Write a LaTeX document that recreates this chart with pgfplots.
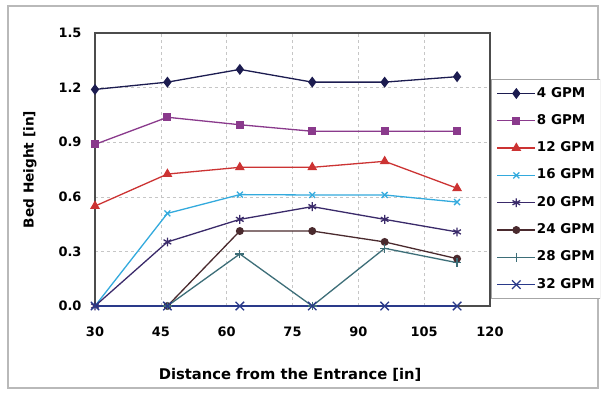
\documentclass[border=0pt]{standalone}
\usepackage{fontspec}
\setmainfont{DejaVu Sans}
\usepackage{pgfplots}
\pgfplotsset{compat=1.18}
\definecolor{c4}{HTML}{1C1C50}
\definecolor{c8}{HTML}{8A3A8C}
\definecolor{c12}{HTML}{CC3333}
\definecolor{c16}{HTML}{33AADD}
\definecolor{c20}{HTML}{3A2A6A}
\definecolor{c24}{HTML}{4A2A2E}
\definecolor{c28}{HTML}{3D6E78}
\definecolor{c32}{HTML}{2A3A8A}
\begin{document}
\begin{tikzpicture}[x=1bp,y=1bp]
\useasboundingbox (0,0) rectangle (604,394);
\fill[white] (0,0) rectangle (604,394);
\draw[gray!55, line width=1.5bp] (8,6) rectangle (598,388);
\begin{scope}
\clip (0,0) rectangle (600,394);
\begin{axis}[
  at={(95bp,88bp)}, anchor=south west,
  scale only axis, width=395bp, height=273bp,
  xmin=30, xmax=120, ymin=0, ymax=1.5,
  xtick={30,45,60,75,90,105,120},
  ytick={0,0.3,0.6,0.9,1.2,1.5},
  yticklabel style={/pgf/number format/fixed,/pgf/number format/fixed zerofill,/pgf/number format/precision=1},
  /pgf/number format/assume math mode=true,
  ticklabel style={font=\bfseries\fontsize{13}{13}\selectfont},
  xticklabel style={yshift=-17bp, text height=10bp, text depth=0bp},
  yticklabel style={xshift=-10bp},
  tick style={draw=none},
  grid=major,
  major grid style={dashed, gray!45, line width=0.6bp},
  axis line style={gray!60!black, line width=1.2bp},
  xlabel={Distance from the Entrance [in]},
  ylabel={Bed Height [in]},
  every axis x label/.style={at={(axis description cs:0.494,0)}, yshift=-69bp, anchor=center, font=\bfseries\fontsize{14.8}{15}\selectfont},
  every axis y label/.style={at={(axis description cs:0,0.5)}, xshift=-65bp, anchor=center, rotate=90, font=\bfseries\fontsize{13.7}{14}\selectfont},
  legend style={at={(1.003,0.8315)}, anchor=north west, draw=gray!70, line width=1bp,
    fill=white, inner xsep=5bp, inner ysep=7bp,
    font=\bfseries\fontsize{13.5}{14}\selectfont,
    nodes={inner sep=1bp, text height=9.5bp, text depth=2.5bp},
    row sep=13.3bp},
  legend cell align=left,
  legend image code/.code={\draw[mark repeat=2,mark phase=2,#1] plot coordinates {(0bp,0bp) (19bp,0bp) (38bp,0bp)};},
  every axis plot/.append style={line width=1.3bp},
]
\addplot[c4, mark=diamond*, mark size=4.5bp, mark options={fill=c4}] coordinates {(30,1.19) (46.5,1.23) (63,1.30) (79.5,1.23) (96,1.23) (112.5,1.26)};
\addlegendentry{4 GPM}
\addplot[c8, mark=square*, mark size=3.4bp, mark options={fill=c8}] coordinates {(30,0.888) (46.5,1.037) (63,0.996) (79.5,0.96) (96,0.96) (112.5,0.96)};
\addlegendentry{8 GPM}
\addplot[c12, mark=triangle*, mark size=4.4bp, mark options={fill=c12}] coordinates {(30,0.549) (46.5,0.725) (63,0.762) (79.5,0.762) (96,0.795) (112.5,0.647)};
\addlegendentry{12 GPM}
\addplot[c16, mark=x, mark size=4.2bp] coordinates {(30,0) (46.5,0.509) (63,0.612) (79.5,0.61) (96,0.61) (112.5,0.571)};
\addlegendentry{16 GPM}
\addplot[c20, mark=asterisk, mark size=4.4bp] coordinates {(30,0) (46.5,0.352) (63,0.476) (79.5,0.546) (96,0.476) (112.5,0.407)};
\addlegendentry{20 GPM}
\addplot[c24, mark=*, mark size=3.3bp, mark options={fill=c24}] coordinates {(46.5,0) (63,0.412) (79.5,0.412) (96,0.352) (112.5,0.26)};
\addlegendentry{24 GPM}
\addplot[c28, mark=+, mark size=4.4bp] coordinates {(46.5,0) (63,0.286) (79.5,0) (96,0.317) (112.5,0.238)};
\addlegendentry{28 GPM}
\addplot[c32, mark=x, mark size=6bp] coordinates {(30,0) (46.5,0) (63,0) (79.5,0) (96,0) (112.5,0)};
\addlegendentry{32 GPM}
\end{axis}
\end{scope}
\end{tikzpicture}
\end{document}
